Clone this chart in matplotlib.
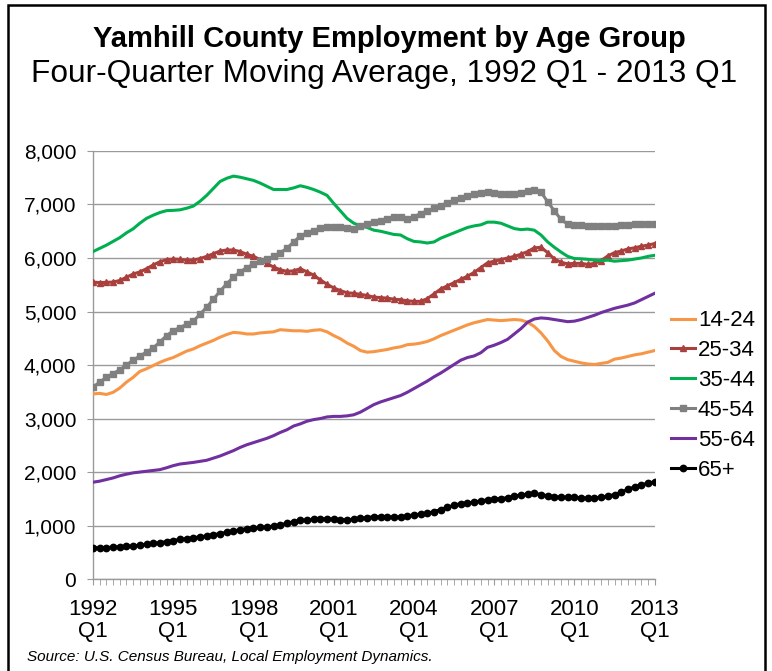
import matplotlib
matplotlib.use('Agg')
import matplotlib.pyplot as plt
import matplotlib.patches as patches
import numpy as np

# quarterly four-quarter moving averages, 1992 Q1 .. 2013 Q1 (85 quarters)
tick_labels = ['1992\nQ1', '1995\nQ1', '1998\nQ1', '2001\nQ1', '2004\nQ1', '2007\nQ1', '2010\nQ1', '2013\nQ1']
series_names = ['14-24', '25-34', '35-44', '45-54', '55-64', '65+']

age_14_24 = [3460, 3470, 3450, 3490, 3570, 3680, 3770, 3880, 3930, 3990, 4050, 4100, 4140, 4200, 4260,
             4300, 4360, 4410, 4460, 4520, 4570, 4610, 4600, 4580, 4580, 4600, 4610, 4620, 4660, 4650,
             4640, 4640, 4630, 4650, 4660, 4620, 4550, 4490, 4410, 4350, 4270, 4240, 4250, 4270, 4290,
             4320, 4340, 4380, 4390, 4410, 4440, 4490, 4550, 4600, 4650, 4700, 4750, 4790, 4820, 4850,
             4840, 4830, 4840, 4850, 4840, 4800, 4720, 4600, 4450, 4270, 4160, 4100, 4070, 4040, 4020,
             4010, 4030, 4050, 4110, 4130, 4160, 4190, 4210, 4240, 4270]
age_25_34 = [5550, 5540, 5545, 5550, 5580, 5640, 5700, 5740, 5800, 5870, 5930, 5970, 5980, 5975, 5960,
             5960, 5990, 6030, 6080, 6130, 6150, 6150, 6120, 6070, 6030, 5970, 5900, 5830, 5780, 5750,
             5760, 5800, 5740, 5680, 5590, 5510, 5440, 5390, 5350, 5340, 5320, 5300, 5270, 5260, 5250,
             5230, 5220, 5200, 5190, 5190, 5240, 5330, 5420, 5480, 5540, 5600, 5660, 5730, 5820, 5910,
             5940, 5970, 6000, 6030, 6070, 6120, 6190, 6200, 6100, 5980, 5920, 5890, 5900, 5900, 5880,
             5900, 5950, 6040, 6100, 6130, 6170, 6190, 6220, 6240, 6270]
age_35_44 = [6120, 6180, 6240, 6310, 6380, 6470, 6545, 6650, 6740, 6800, 6850, 6885, 6890, 6900, 6930,
             6970, 7060, 7170, 7300, 7430, 7490, 7530, 7510, 7480, 7450, 7400, 7340, 7280, 7280, 7280,
             7310, 7350, 7320, 7280, 7230, 7170, 7020, 6880, 6740, 6650, 6600, 6570, 6520, 6500, 6470,
             6440, 6430, 6360, 6310, 6300, 6280, 6300, 6370, 6420, 6470, 6520, 6570, 6600, 6620, 6670,
             6670, 6650, 6600, 6550, 6530, 6540, 6520, 6430, 6300, 6200, 6110, 6030, 5990, 5985, 5975,
             5960, 5950, 5960, 5940, 5950, 5960, 5980, 6000, 6030, 6050]
age_45_54 = [3590, 3680, 3770, 3840, 3910, 4000, 4090, 4170, 4240, 4320, 4430, 4550, 4640, 4700, 4760,
             4820, 4950, 5080, 5230, 5380, 5520, 5640, 5740, 5820, 5880, 5940, 5980, 6030, 6100, 6180,
             6300, 6410, 6470, 6510, 6560, 6580, 6580, 6570, 6560, 6550, 6590, 6630, 6670, 6700, 6730,
             6760, 6760, 6730, 6770, 6830, 6880, 6930, 6980, 7030, 7080, 7120, 7160, 7200, 7220, 7240,
             7220, 7190, 7190, 7190, 7210, 7260, 7270, 7230, 7050, 6880, 6720, 6630, 6620, 6610, 6600,
             6600, 6600, 6600, 6600, 6610, 6620, 6630, 6630, 6630, 6630]
age_55_64 = [1810, 1830, 1860, 1890, 1930, 1960, 1985, 2000, 2015, 2030, 2045, 2080, 2120, 2150, 2165,
             2180, 2200, 2220, 2260, 2300, 2350, 2400, 2460, 2510, 2550, 2590, 2630, 2680, 2740, 2790,
             2860, 2900, 2950, 2980, 3000, 3030, 3040, 3040, 3050, 3070, 3120, 3190, 3260, 3310, 3350,
             3390, 3430, 3490, 3560, 3630, 3700, 3780, 3850, 3930, 4010, 4090, 4140, 4170, 4230, 4330,
             4370, 4420, 4480, 4580, 4680, 4800, 4860, 4880, 4870, 4850, 4830, 4810, 4820, 4850, 4890,
             4930, 4980, 5020, 5060, 5090, 5120, 5160, 5220, 5280, 5340]
age_65_plus = [580, 585, 590, 595, 600, 610, 620, 635, 650, 665, 680, 700, 720, 740, 755,
               770, 790, 805, 830, 850, 875, 900, 920, 945, 955, 965, 975, 990, 1010, 1045,
               1070, 1095, 1105, 1115, 1125, 1125, 1120, 1110, 1105, 1120, 1135, 1150, 1165, 1165, 1165,
               1155, 1160, 1180, 1200, 1215, 1230, 1260, 1300, 1340, 1380, 1410, 1420, 1440, 1460, 1480,
               1490, 1505, 1520, 1550, 1570, 1590, 1600, 1580, 1555, 1535, 1530, 1530, 1525, 1520, 1510,
               1520, 1530, 1550, 1580, 1620, 1680, 1720, 1760, 1790, 1820]

plt.rcParams['font.family'] = ['Liberation Sans', 'DejaVu Sans']

fig = plt.figure(figsize=(7.72, 6.71), dpi=100)
ax = fig.add_axes([0.1205, 0.137, 0.7275, 0.638])

quarters = np.arange(len(age_14_24))
# line color / marker per series
colors = ['#F79646', '#A9403D', '#00B050', '#808080', '#7030A0', '#000000']
markers = [None, '^', None, 's', None, 'o']
msizes = [0, 4.5, 0, 4.2, 0, 4.6]
data = [age_14_24, age_25_34, age_35_44, age_45_54, age_55_64, age_65_plus]

for vals, name, c, m, ms in zip(data, series_names, colors, markers, msizes):
    ax.plot(quarters, vals, color=c, lw=2.2, marker=m, markersize=ms, label=name, zorder=3)

ax.set_xlim(0, len(quarters) - 1)
ax.set_ylim(0, 8000)
ax.set_yticks(np.arange(0, 8001, 1000))
ax.set_yticklabels(['0'] + ['{:,}'.format(v) for v in range(1000, 8001, 1000)])
ax.set_xticks(np.arange(0, len(quarters), 12))
ax.set_xticklabels(tick_labels, linespacing=1.12)
ax.set_xticks(quarters, minor=True)

ax.grid(axis='y', color='#9a9a9a', lw=1.0)
ax.set_axisbelow(True)
for s in ['top', 'right']:
    ax.spines[s].set_visible(False)
for s in ['left', 'bottom']:
    ax.spines[s].set_color('#9a9a9a')
    ax.spines[s].set_linewidth(1.0)
ax.tick_params(axis='y', length=4, color='#9a9a9a', labelsize=15, pad=8)
ax.tick_params(axis='x', which='both', length=4, color='#9a9a9a', labelsize=16, pad=10)

ax.legend(loc='upper left', bbox_to_anchor=(0.855, 0.554), bbox_transform=fig.transFigure,
          frameon=False, fontsize=16, handlelength=1.05, handletextpad=0.15,
          labelspacing=0.4, numpoints=1, borderpad=0)

fig.text(0.505, 0.942, 'Yamhill County Employment by Age Group', ha='center', va='center',
         fontsize=21, fontweight='bold')
fig.text(0.497, 0.890, 'Four-Quarter Moving Average, 1992 Q1 - 2013 Q1', ha='center', va='center',
         fontsize=22.8)
fig.text(0.035, 0.021, 'Source: U.S. Census Bureau, Local Employment Dynamics.', ha='left', va='center',
         fontsize=11, style='italic')

# outer border of the chart box
fig.patches.append(patches.Rectangle((8 / 772, -0.1), 757 / 772, 1.1 - 5 / 671, fill=False,
                                     lw=1.8, edgecolor='black', transform=fig.transFigure))

fig.savefig('out.png', dpi=100)
